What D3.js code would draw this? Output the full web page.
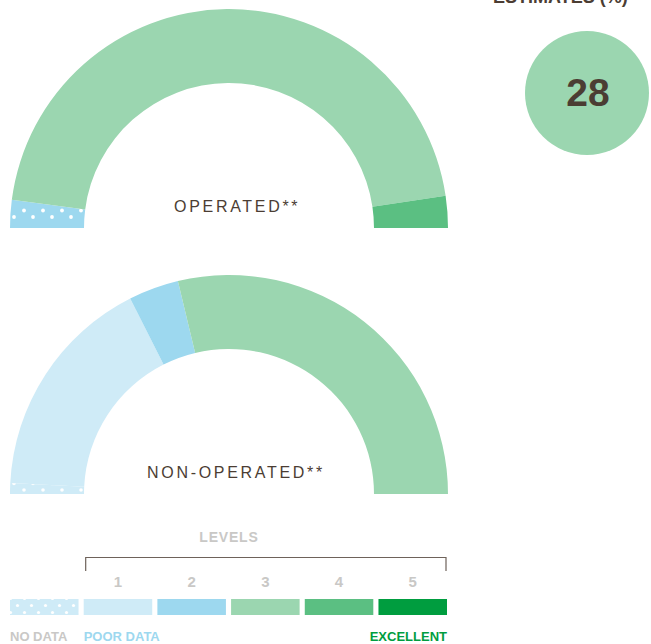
<!DOCTYPE html>
<html>
<head>
<meta charset="utf-8">
<script src="https://cdn.jsdelivr.net/npm/d3@7"></script>
<style>
  body { margin: 0; background: #fff; }
  svg { display: block; font-family: "Liberation Sans", Arial, sans-serif; }
</style>
</head>
<body>
<svg id="chart" width="651" height="644"></svg>
<script>
// ---- data ----
const levels = ["No data", "1", "2", "3", "4", "5"];
const levelColors = ["nodata", "#cfebf7", "#9dd8ef", "#9bd6b0", "#5bbf82", "#009d3f"];
const operatedValues = [4.1, 0, 0, 91.2, 4.7, 0];
const nonOperatedValues = [1.6, 33.5, 7.4, 57.5, 0, 0];
const estimateValue = 28;
const estimateLabel = "ESTIMATES (%)";
const gaugeLabels = ["OPERATED**", "NON-OPERATED**"];
const tickLabels = ["1", "2", "3", "4", "5"];
const legendLabels = ["NO DATA", "POOR DATA", "EXCELLENT"];

const svg = d3.select("#chart");
const defs = svg.append("defs");

function dotPattern(id, base, w, h, dots, r) {
  const p = defs.append("pattern").attr("id", id)
    .attr("patternUnits", "userSpaceOnUse").attr("width", w).attr("height", h);
  p.append("rect").attr("width", w).attr("height", h).attr("fill", base);
  dots.forEach(([cx, cy]) => p.append("circle").attr("cx", cx).attr("cy", cy).attr("r", r).attr("fill", "#fff"));
}
dotPattern("nd-op", levelColors[2], 19, 26, [[13, 15], [4, 8.5]], 1.9);
dotPattern("nd-nonop", levelColors[1], 19, 26, [[4, 22], [13, 15.5]], 1.8);
dotPattern("nd-leg", levelColors[1], 14, 14, [[3.5, 3.5], [10.5, 10.5]], 1.6);

const pie = d3.pie().sort(null).value(d => d)
  .startAngle(-Math.PI / 2).endAngle(Math.PI / 2);
const arc = d3.arc().innerRadius(145).outerRadius(219);

function gauge(values, cy, ndFill, label, labelX) {
  const g = svg.append("g").attr("transform", `translate(229,${cy})`);
  g.selectAll("path").data(pie(values)).join("path")
    .attr("d", arc)
    .attr("fill", (d, i) => i === 0 ? `url(#${ndFill})` : levelColors[i]);
  svg.append("text").attr("x", labelX).attr("y", cy - 16)
    .attr("font-size", 16).attr("letter-spacing", 2.7)
    .attr("fill", "#4b3d33").text(label);
}
gauge(operatedValues, 228, "nd-op", gaugeLabels[0], 174);
gauge(nonOperatedValues, 494, "nd-nonop", gaugeLabels[1], 147);

// estimates circle
svg.append("text").attr("x", 493).attr("y", 3)
  .attr("font-size", 18).attr("font-weight", "bold")
  .attr("fill", "#4b3d33").text(estimateLabel);
svg.append("circle").attr("cx", 587).attr("cy", 93).attr("r", 62).attr("fill", levelColors[3]);
svg.append("text").attr("x", 588).attr("y", 106).attr("text-anchor", "middle")
  .attr("font-size", 39).attr("font-weight", "bold")
  .attr("fill", "#4b3d33").text(estimateValue);

// legend
const x = d3.scaleBand().domain(levels).range([10, 447]).paddingInner(0.07).paddingOuter(0);
svg.append("text").attr("x", 229).attr("y", 542).attr("text-anchor", "middle")
  .attr("font-size", 14).attr("font-weight", "bold").attr("letter-spacing", 0.8)
  .attr("fill", "#c9c8c6").text("LEVELS");
svg.append("path")
  .attr("d", `M${x("1") + 2},571V557.5H${x("5") + x.bandwidth() - 1}V571`)
  .attr("fill", "none").attr("stroke", "#6e625a").attr("stroke-width", 1.2);
svg.selectAll("text.tick").data(tickLabels).join("text").attr("class", "tick")
  .attr("x", d => x(d) + x.bandwidth() / 2).attr("y", 587)
  .attr("text-anchor", "middle").attr("font-size", 15).attr("font-weight", "bold")
  .attr("fill", "#c9c8c6").text(d => d);
svg.selectAll("rect.sw").data(levels).join("rect").attr("class", "sw")
  .attr("x", d => x(d)).attr("y", 599).attr("width", x.bandwidth()).attr("height", 16)
  .attr("fill", (d, i) => i === 0 ? "url(#nd-leg)" : levelColors[i]);
svg.append("text").attr("x", 10).attr("y", 641).attr("font-size", 13).attr("font-weight", "bold")
  .attr("fill", "#c9c8c6").text(legendLabels[0]);
svg.append("text").attr("x", x("1")).attr("y", 641).attr("font-size", 13).attr("font-weight", "bold")
  .attr("fill", levelColors[2]).text(legendLabels[1]);
svg.append("text").attr("x", x("5") + x.bandwidth()).attr("y", 641).attr("text-anchor", "end")
  .attr("font-size", 13).attr("font-weight", "bold")
  .attr("fill", levelColors[5]).text(legendLabels[2]);
</script>
</body>
</html>
